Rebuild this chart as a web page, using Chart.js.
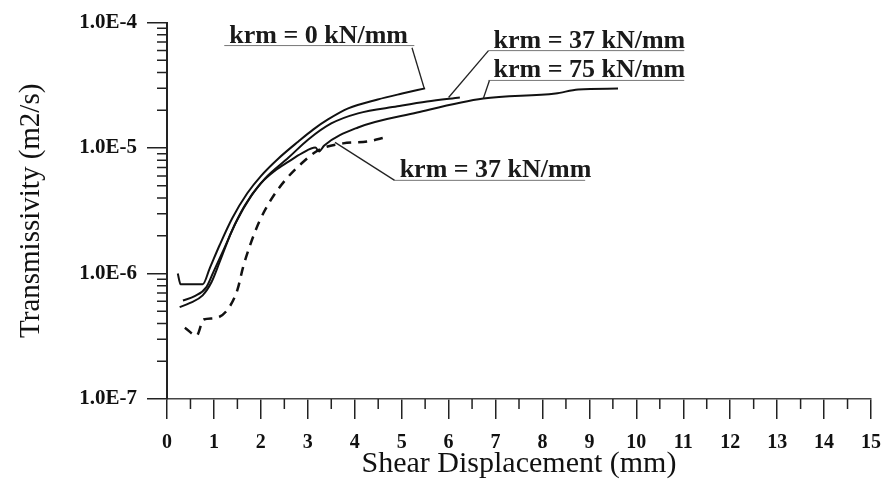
<!DOCTYPE html>
<html>
<head>
<meta charset="utf-8">
<script src="https://cdn.jsdelivr.net/npm/chart.js@4"></script>
<style>
  html, body { margin: 0; padding: 0; background: #fff; }
  canvas { display: block; }
</style>
</head>
<body>
<canvas id="myChart" width="893" height="488"></canvas>
<script>
// Shear displacement (mm) and transmissivity (m2/s)
const krm0X = [0.23, 0.29, 0.76, 0.91, 1.12, 1.39, 1.71, 2.00, 2.38, 2.80, 3.12, 3.43, 3.86, 4.49, 5.01, 5.50];
const krm0Y = [1.0e-6, 8.2e-7, 8.2e-7, 1.10e-6, 1.68e-6, 2.76e-6, 4.36e-6, 5.98e-6, 8.3e-6, 1.13e-5, 1.41e-5, 1.69e-5, 2.07e-5, 2.44e-5, 2.72e-5, 2.99e-5];

const krm37X = [0.34, 0.59, 0.84, 0.99, 1.20, 1.47, 1.79, 2.09, 2.59, 3.01, 3.50, 4.07, 4.91, 5.54, 6.24];
const krm37Y = [6.1e-7, 6.6e-7, 7.8e-7, 1.03e-6, 1.53e-6, 2.56e-6, 4.13e-6, 5.74e-6, 8.4e-6, 1.17e-5, 1.57e-5, 1.89e-5, 2.15e-5, 2.35e-5, 2.53e-5];

const krm75X = [0.27, 0.48, 0.76, 0.95, 1.12, 1.37, 1.66, 2.00, 2.30, 2.59, 2.88, 3.16, 3.24, 3.35, 4.07, 5.33, 6.74, 8.28, 8.76, 9.61];
const krm75Y = [5.4e-7, 5.8e-7, 6.7e-7, 8.55e-7, 1.23e-6, 2.13e-6, 3.5e-6, 5.24e-6, 6.6e-6, 7.8e-6, 9.1e-6, 1.01e-5, 9.4e-6, 1.05e-5, 1.46e-5, 1.92e-5, 2.48e-5, 2.72e-5, 2.93e-5, 2.98e-5];

const krm37bX = [0.38, 0.63, 0.78, 1.01, 1.28, 1.50, 1.62, 1.77, 1.96, 2.21, 2.51, 2.86, 3.22, 3.75, 4.28, 4.66];
const krm37bY = [3.7e-7, 3.2e-7, 4.3e-7, 4.4e-7, 5.1e-7, 7.4e-7, 1.12e-6, 1.68e-6, 2.56e-6, 3.84e-6, 5.5e-6, 7.5e-6, 9.6e-6, 1.09e-5, 1.13e-5, 1.22e-5];

const labelTexts = ['krm = 0 kN/mm', 'krm = 37 kN/mm', 'krm = 75 kN/mm', 'krm = 37 kN/mm'];

const toPoints = (xs, ys) => xs.map((x, i) => ({ x: x, y: ys[i] }));

const serif = '"Liberation Serif", "Times New Roman", serif';

// Callouts: underline (x0..x1 at y) and a leader line from the underline to the curve
const callouts = [
  { text: labelTexts[0], x0: 1.22, x1: 5.27, y: 6.56e-5, from: [5.22, 6.3e-5], to: [5.48, 3.0e-5] },
  { text: labelTexts[1], x0: 6.85, x1: 11.02, y: 5.98e-5, from: [6.85, 5.98e-5], to: [6.0, 2.53e-5] },
  { text: labelTexts[2], x0: 6.85, x1: 11.02, y: 3.46e-5, from: [6.87, 3.46e-5], to: [6.74, 2.48e-5] },
  { text: labelTexts[3], x0: 4.85, x1: 8.91, y: 5.53e-6, from: [4.85, 5.53e-6], to: [3.58, 1.11e-5] }
];

const calloutPlugin = {
  id: 'callouts',
  afterDatasetsDraw(chart) {
    const c = chart.ctx, xs = chart.scales.x, ys = chart.scales.y;
    c.save();
    callouts.forEach(o => {
      const ux0 = xs.getPixelForValue(o.x0), ux1 = xs.getPixelForValue(o.x1);
      const uy = ys.getPixelForValue(o.y);
      c.font = 'bold 26px ' + serif;
      c.fillStyle = '#1a1a1a';
      c.textBaseline = 'alphabetic';
      c.textAlign = 'left';
      c.fillText(o.text, ux0 + 5, uy - 3);
      c.strokeStyle = '#777';
      c.lineWidth = 1;
      c.beginPath();
      c.moveTo(ux0, uy);
      c.lineTo(ux1, uy);
      c.stroke();
      c.strokeStyle = '#222';
      c.lineWidth = 1.3;
      c.beginPath();
      c.moveTo(xs.getPixelForValue(o.from[0]), ys.getPixelForValue(o.from[1]));
      c.lineTo(xs.getPixelForValue(o.to[0]), ys.getPixelForValue(o.to[1]));
      c.stroke();
    });
    c.restore();
  }
};

// Minor ticks: half millimetres on x, 2..9 in each decade on y
const minorTicks = {
  id: 'minorTicks',
  afterDraw(chart) {
    const c = chart.ctx, xs = chart.scales.x, ys = chart.scales.y;
    const area = chart.chartArea;
    c.save();
    c.strokeStyle = '#222';
    c.lineWidth = 1.5;
    c.beginPath();
    for (let v = 0.5; v < 15; v += 1) {
      const px = xs.getPixelForValue(v);
      c.moveTo(px, area.bottom);
      c.lineTo(px, area.bottom + 10);
    }
    for (let e = -7; e < -4; e++) {
      for (let m = 2; m <= 9; m++) {
        const py = ys.getPixelForValue(m * Math.pow(10, e));
        c.moveTo(area.left, py);
        c.lineTo(area.left - 10, py);
      }
    }
    c.stroke();
    c.restore();
  }
};

const ctx = document.getElementById('myChart').getContext('2d');

const lineStyle = { borderColor: '#111', borderWidth: 2, pointRadius: 0, cubicInterpolationMode: 'monotone', fill: false };

const myChart = new Chart(ctx, {
  type: 'line',
  data: {
    datasets: [
      Object.assign({ label: labelTexts[0], data: toPoints(krm0X, krm0Y) }, lineStyle),
      Object.assign({ label: labelTexts[1], data: toPoints(krm37X, krm37Y) }, lineStyle),
      Object.assign({ label: labelTexts[2], data: toPoints(krm75X, krm75Y) }, lineStyle),
      Object.assign({ label: labelTexts[3], data: toPoints(krm37bX, krm37bY) }, lineStyle, { borderWidth: 2.5, borderDash: [9, 7] })
    ]
  },
  options: {
    responsive: false,
    animation: false,
    devicePixelRatio: 1,
    layout: { padding: { top: 22, right: 14, left: 0, bottom: 0 } },
    plugins: { legend: { display: false }, tooltip: { enabled: false } },
    scales: {
      x: {
        type: 'linear',
        min: 0,
        max: 15,
        afterFit: s => { s.height = 89; },
        ticks: { stepSize: 1, color: '#111', padding: 12, font: { family: serif, size: 20, weight: 'bold' } },
        grid: { drawOnChartArea: false, tickLength: 20, color: '#222', lineWidth: 1.5 },
        border: { color: '#444', width: 1.5 },
        title: {
          display: true,
          text: 'Shear Displacement (mm)',
          color: '#111',
          font: { family: serif, size: 30 },
          padding: { top: 0, bottom: 6 }
        }
      },
      y: {
        type: 'logarithmic',
        min: 1e-7,
        max: 1e-4,
        afterFit: s => { s.width = 167; },
        afterBuildTicks: s => {
          s.ticks = s.ticks.filter(t => Math.abs(Math.log10(t.value) - Math.round(Math.log10(t.value))) < 1e-6);
        },
        ticks: {
          color: '#111',
          padding: 10,
          font: { family: serif, size: 21, weight: 'bold' },
          callback: v => Number(v).toExponential(1).toUpperCase()
        },
        grid: { drawOnChartArea: false, tickLength: 20, color: '#222', lineWidth: 1.5 },
        border: { color: '#222', width: 2 },
        title: {
          display: true,
          text: 'Transmissivity (m2/s)',
          color: '#111',
          font: { family: serif, size: 29 },
          padding: { top: 14, bottom: 0 }
        }
      }
    }
  },
  plugins: [calloutPlugin, minorTicks]
});
</script>
</body>
</html>
